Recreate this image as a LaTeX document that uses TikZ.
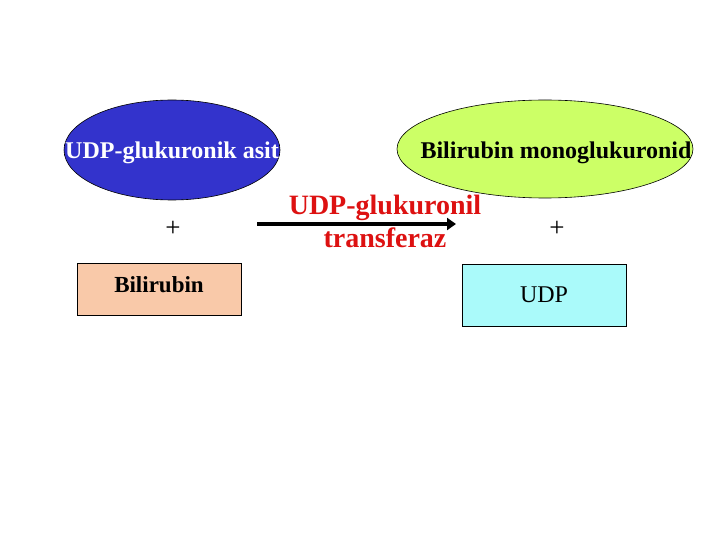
\documentclass[tikz,border=0pt]{standalone}
\usepackage{fontspec}
\setmainfont{Liberation Serif}
\usetikzlibrary{arrows.meta,positioning,shapes.geometric}
\definecolor{udpblue}{HTML}{3333CC}
\definecolor{monogreen}{HTML}{CCFF66}
\definecolor{bilipeach}{HTML}{F9C9A9}
\definecolor{udpcyan}{HTML}{AAFAFA}
\definecolor{enzred}{HTML}{DD1111}
\tikzset{
  >=Triangle,
  blob/.style={ellipse,draw=black,line width=0.6pt,inner sep=0pt},
  blobtext/.style={inner sep=0pt,font=\fontsize{24}{26}\selectfont\bfseries},
  chem/.style={rectangle,draw=black,line width=0.8pt,inner sep=0pt,
               font=\fontsize{24}{26}\selectfont},
  plus/.style={font=\fontsize{27}{28}\selectfont,inner sep=0pt},
  enz/.style={font=\fontsize{28}{29}\selectfont\bfseries,text=enzred,
              align=center,inner sep=0pt},
  react/.style={->,line width=4pt,draw=black},
}
\begin{document}
\begin{tikzpicture}[x=1pt,y=-1pt]
  \useasboundingbox[fill=white] (0,0) rectangle (720,540);

  % substrates (left column)
  \node[blob,fill=udpblue,minimum width=216pt,minimum height=100pt]
    (glcA) at (172,150) {};
  \node[blobtext,text=white] (glcAt) at (172,153) {UDP-glukuronik asit};
  \node[plus] (plusL) at (173,229) {+};
  \node[chem,fill=bilipeach,minimum width=164pt,minimum height=52pt]
    (bili) at (159,289) {};
  \node[blobtext,font=\fontsize{23}{26}\selectfont\bfseries]
    (bilit) at (159,285) {Bilirubin};

  % products (right column)
  \node[blob,fill=monogreen,minimum width=296pt,minimum height=98pt]
    (mono) at (545,149) {};
  \node[blobtext] (monot) at (556,153) {Bilirubin monoglukuronid};
  \node[plus] (plusR) at (557,229) {+};
  \node[chem,fill=udpcyan,minimum width=164pt,minimum height=62pt]
    (udp) at (544,295) {UDP};

  % enzyme arrow
  \coordinate (arrS) at (257,224);
  \coordinate (arrE) at (456,224);
  \draw[react,-{Triangle[length=9pt,width=12pt]}] (arrS) -- (arrE);
  \node[enz] (enzA) at (385,208) {UDP-glukuronil};
  \node[enz] (enzB) at (385,238) {transferaz};
\end{tikzpicture}
\end{document}
